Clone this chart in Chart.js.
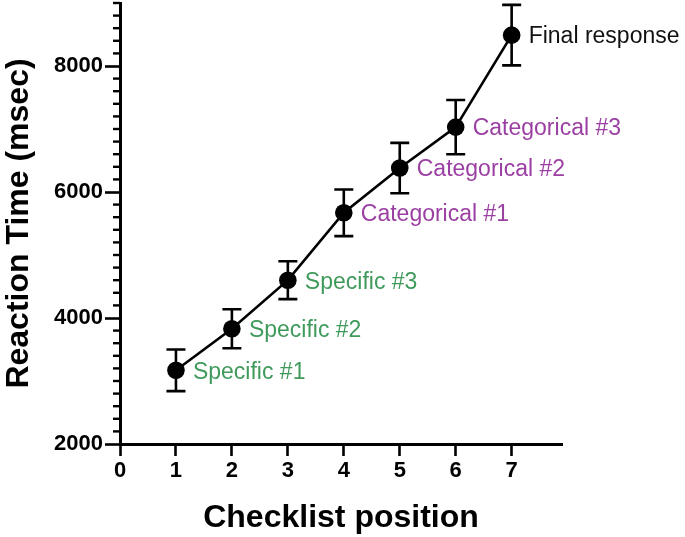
<!DOCTYPE html>
<html>
<head>
<meta charset="utf-8">
<script src="https://cdn.jsdelivr.net/npm/chart.js@4"></script>
<style>
html,body{margin:0;padding:0;background:#fff;}
#wrap{width:685px;height:537px;position:relative;}
</style>
</head>
<body>
<div id="wrap"><canvas id="c" width="685" height="537"></canvas></div>
<script>
const positions = [1, 2, 3, 4, 5, 6, 7];
const meanRT = [3170, 3830, 4600, 5670, 6380, 7030, 8490];
const semRT = [330, 310, 300, 370, 400, 430, 480];
const pointLabels = ["Specific #1", "Specific #2", "Specific #3", "Categorical #1", "Categorical #2", "Categorical #3", "Final response"];
const labelColors = ["#3f9a5c", "#3f9a5c", "#3f9a5c", "#9b3fa3", "#9b3fa3", "#9b3fa3", "#111111"];
const yTickValues = [2000, 4000, 6000, 8000];
const xTickValues = [0, 1, 2, 3, 4, 5, 6, 7];

const FONT = '"Liberation Sans", Arial, Helvetica, sans-serif';

const errorBarPlugin = {
  id: 'errorBars',
  beforeDatasetsDraw(chart) {
    const ctx = chart.ctx;
    const xs = chart.scales.x, ys = chart.scales.y;
    ctx.save();
    ctx.strokeStyle = '#000';
    ctx.lineWidth = 2.6;
    for (let i = 0; i < positions.length; i++) {
      const px = xs.getPixelForValue(positions[i]);
      const top = ys.getPixelForValue(meanRT[i] + semRT[i]);
      const bot = ys.getPixelForValue(meanRT[i] - semRT[i]);
      ctx.beginPath();
      ctx.moveTo(px, top); ctx.lineTo(px, bot);
      ctx.moveTo(px - 9.5, top); ctx.lineTo(px + 9.5, top);
      ctx.moveTo(px - 9.5, bot); ctx.lineTo(px + 9.5, bot);
      ctx.stroke();
    }
    ctx.restore();
  },
  afterDraw(chart) {
    const ctx = chart.ctx;
    const xs = chart.scales.x, ys = chart.scales.y;
    ctx.save();
    ctx.strokeStyle = '#000';
    ctx.lineWidth = 2.4;
    const left = ys.right;
    for (let v = ys.min; v <= ys.max + 0.1; v += 200) {
      if (yTickValues.includes(Math.round(v))) continue;
      const py = ys.getPixelForValue(v);
      ctx.beginPath();
      ctx.moveTo(left - 7, py); ctx.lineTo(left, py);
      ctx.stroke();
    }
    ctx.font = '23px ' + FONT;
    ctx.textBaseline = 'middle';
    ctx.textAlign = 'left';
    for (let i = 0; i < positions.length; i++) {
      const px = xs.getPixelForValue(positions[i]);
      const py = ys.getPixelForValue(meanRT[i]);
      ctx.fillStyle = labelColors[i];
      ctx.fillText(pointLabels[i], px + 17, py + 2);
    }
    ctx.restore();
  }
};

new Chart(document.getElementById('c'), {
  type: 'line',
  data: {
    datasets: [{
      data: positions.map((p, i) => ({ x: p, y: meanRT[i] })),
      borderColor: '#000',
      backgroundColor: '#000',
      borderWidth: 2.6,
      pointRadius: 8.8,
      pointBackgroundColor: '#000',
      pointBorderColor: '#000',
      pointBorderWidth: 0,
      tension: 0,
      clip: false
    }]
  },
  options: {
    responsive: false,
    animation: false,
    devicePixelRatio: 1,
    layout: { autoPadding: false, padding: { left: 0, top: 3, right: 123, bottom: 0 } },
    plugins: { legend: { display: false }, tooltip: { enabled: false } },
    scales: {
      x: {
        type: 'linear',
        min: 0,
        max: 7.9,
        afterFit(scale) { scale.height = 93; scale.paddingLeft = 0; scale.paddingRight = 0; },
        afterBuildTicks(scale) { scale.ticks = xTickValues.map(v => ({ value: v })); },
        ticks: {
          includeBounds: false,
          stepSize: 1,
          color: '#000',
          padding: 2,
          callback: v => String(v),
          font: { family: FONT, size: 22, weight: 'bold' }
        },
        grid: { drawOnChartArea: false, drawTicks: true, tickLength: 12, tickWidth: 2.6, tickColor: '#000' },
        border: { display: true, width: 3, color: '#000' },
        title: {
          display: true,
          text: 'Checklist position',
          color: '#000',
          font: { family: FONT, size: 32, weight: 'bold' },
          padding: { top: 0, bottom: 0 }
        }
      },
      y: {
        type: 'linear',
        min: 2000,
        max: 9000,
        afterFit(scale) { scale.width = 120; scale.paddingTop = 0; scale.paddingBottom = 0; },
        afterBuildTicks(scale) { scale.ticks = yTickValues.map(v => ({ value: v })); },
        ticks: {
          includeBounds: false,
          stepSize: 2000,
          color: '#000',
          padding: 2,
          callback: v => String(v),
          font: { family: FONT, size: 22, weight: 'bold' }
        },
        grid: { drawOnChartArea: false, drawTicks: true, tickLength: 15, tickWidth: 2.6, tickColor: '#000' },
        border: { display: true, width: 3, color: '#000' },
        title: {
          display: true,
          text: 'Reaction Time (msec)',
          color: '#000',
          font: { family: FONT, size: 32, weight: 'bold' },
          padding: { top: 0, bottom: 0 }
        }
      }
    }
  },
  plugins: [errorBarPlugin]
});
</script>
</body>
</html>
